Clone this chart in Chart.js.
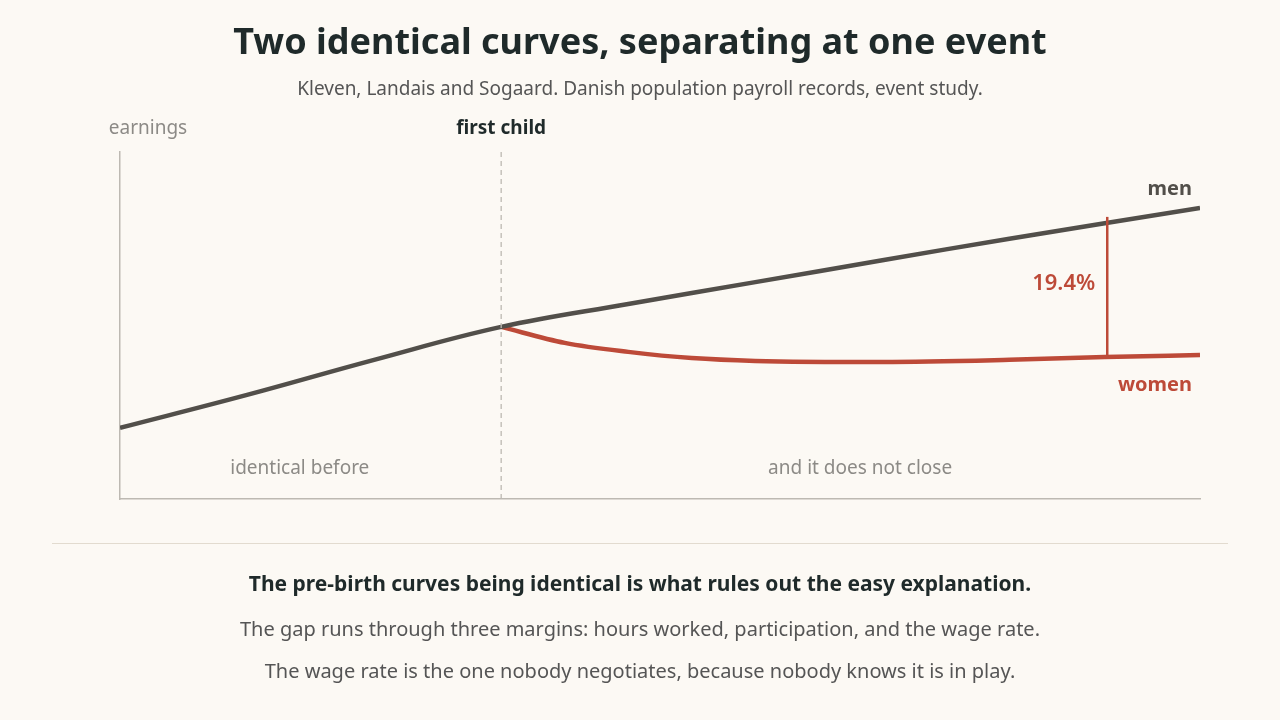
<!DOCTYPE html>
<html>
<head>
<meta charset="utf-8">
<script src="https://cdn.jsdelivr.net/npm/chart.js@4"></script>
<style>
  body { margin: 0; background: #fcf9f4; font-family: "Noto Sans", sans-serif; }
  #wrap { position: relative; width: 1280px; height: 720px; }
  canvas { position: absolute; left: 0; top: 0; }
  .t { position: absolute; left: 0; width: 1280px; text-align: center; margin: 0; }
  #title { top: 16px; font-size: 36px; font-weight: 700; color: #1f2a2a; }
  #sub { top: 75px; font-size: 19px; color: #555; }
  #rule { position: absolute; left: 52px; width: 1176px; top: 543px; border-top: 1.5px solid #e2dbcf; }
  #b1 { top: 569px; font-size: 21px; font-weight: 700; color: #1f2a2a; }
  #b2 { top: 615px; font-size: 20px; color: #555; }
  #b3 { top: 657px; font-size: 20px; color: #555; }
</style>
</head>
<body>
<div id="wrap">
  <canvas id="c" width="1280" height="720"></canvas>
  <p class="t" id="title">Two identical curves, separating at one event</p>
  <p class="t" id="sub">Kleven, Landais and Sogaard. Danish population payroll records, event study.</p>
  <div id="rule"></div>
  <p class="t" id="b1">The pre-birth curves being identical is what rules out the easy explanation.</p>
  <p class="t" id="b2">The gap runs through three margins: hours worked, participation, and the wage rate.</p>
  <p class="t" id="b3">The wage rate is the one nobody negotiates, because nobody knows it is in play.</p>
</div>
<script>
// years relative to first child
const menYears = [-6, -4, -2, 0, 2, 4, 6, 8, 11];
const menValues = [20.5, 30.0, 40.1, 49.6, 56.2, 62.5, 68.8, 75.0, 83.9];
const womenYears = [0, 1, 2, 3, 4, 6, 8, 9.5, 11];
const womenValues = [49.6, 45.0, 42.4, 40.6, 39.8, 39.5, 40.1, 40.9, 41.5];
const eventYear = 0;
const gapYear = 9.54;
const gapLabel = '19.4%';

const MEN = '#524f4a', WOMEN = '#bd4a38', GREY = '#8c8a86';
const FONT = '"Noto Sans", sans-serif';

function interp(xs, ys, x) {
  for (let i = 1; i < xs.length; i++) {
    if (x <= xs[i]) {
      const t = (x - xs[i - 1]) / (xs[i] - xs[i - 1]);
      return ys[i - 1] + t * (ys[i] - ys[i - 1]);
    }
  }
  return ys[ys.length - 1];
}

const notes = {
  id: 'notes',
  afterDatasetsDraw(chart) {
    const { ctx, chartArea: a, scales: { x, y } } = chart;
    ctx.save();
    // event line
    const ex = x.getPixelForValue(eventYear);
    ctx.strokeStyle = '#bdb9b2';
    ctx.lineWidth = 1.3;
    ctx.setLineDash([5, 4]);
    ctx.beginPath(); ctx.moveTo(ex, a.top); ctx.lineTo(ex, a.bottom); ctx.stroke();
    ctx.setLineDash([]);
    // gap bracket
    const gx = x.getPixelForValue(gapYear);
    const mTop = y.getPixelForValue(interp(menYears, menValues, gapYear)) - 6;
    const wBot = y.getPixelForValue(interp(womenYears, womenValues, gapYear));
    ctx.strokeStyle = WOMEN; ctx.lineWidth = 2.5;
    ctx.beginPath(); ctx.moveTo(gx, mTop); ctx.lineTo(gx, wBot); ctx.stroke();

    ctx.textBaseline = 'middle';
    ctx.font = '600 22px ' + FONT; ctx.fillStyle = WOMEN; ctx.textAlign = 'right';
    ctx.fillText(gapLabel, gx - 12, 284);
    ctx.font = '700 20px ' + FONT;
    ctx.fillText('women', a.right - 8, 385);
    ctx.fillStyle = MEN;
    ctx.fillText('men', a.right - 8, 189);
    ctx.textAlign = 'center';
    ctx.fillStyle = '#1f2a2a'; ctx.font = '700 19px ' + FONT;
    ctx.fillText('first child', ex, 129);
    ctx.fillStyle = GREY; ctx.font = '19px ' + FONT;
    ctx.fillText('earnings', a.left + 28, 129);
    ctx.fillText('identical before', x.getPixelForValue(-3.17), 469);
    ctx.fillText('and it does not close', x.getPixelForValue(5.65), 469);
    ctx.restore();
  }
};

new Chart(document.getElementById('c'), {
  type: 'line',
  data: {
    datasets: [
      { label: 'men', data: menYears.map((v, i) => ({ x: v, y: menValues[i] })),
        borderColor: MEN, borderWidth: 4.5, pointRadius: 0, tension: 0.4 },
      { label: 'women', data: womenYears.map((v, i) => ({ x: v, y: womenValues[i] })),
        borderColor: WOMEN, borderWidth: 4.5, pointRadius: 0, cubicInterpolationMode: 'monotone' }
    ]
  },
  options: {
    responsive: false,
    animation: false,
    layout: { padding: { left: 120, right: 80, top: 152, bottom: 221 } },
    plugins: { legend: { display: false }, tooltip: { enabled: false } },
    scales: {
      x: { type: 'linear', min: -6, max: 11, grid: { display: false, drawTicks: false },
           ticks: { display: false }, border: { color: '#bdb9b2', width: 1.5 } },
      y: { min: 0, max: 100, grid: { display: false, drawTicks: false },
           ticks: { display: false }, border: { color: '#bdb9b2', width: 1.5 } }
    }
  },
  plugins: [notes]
});
</script>
</body>
</html>
